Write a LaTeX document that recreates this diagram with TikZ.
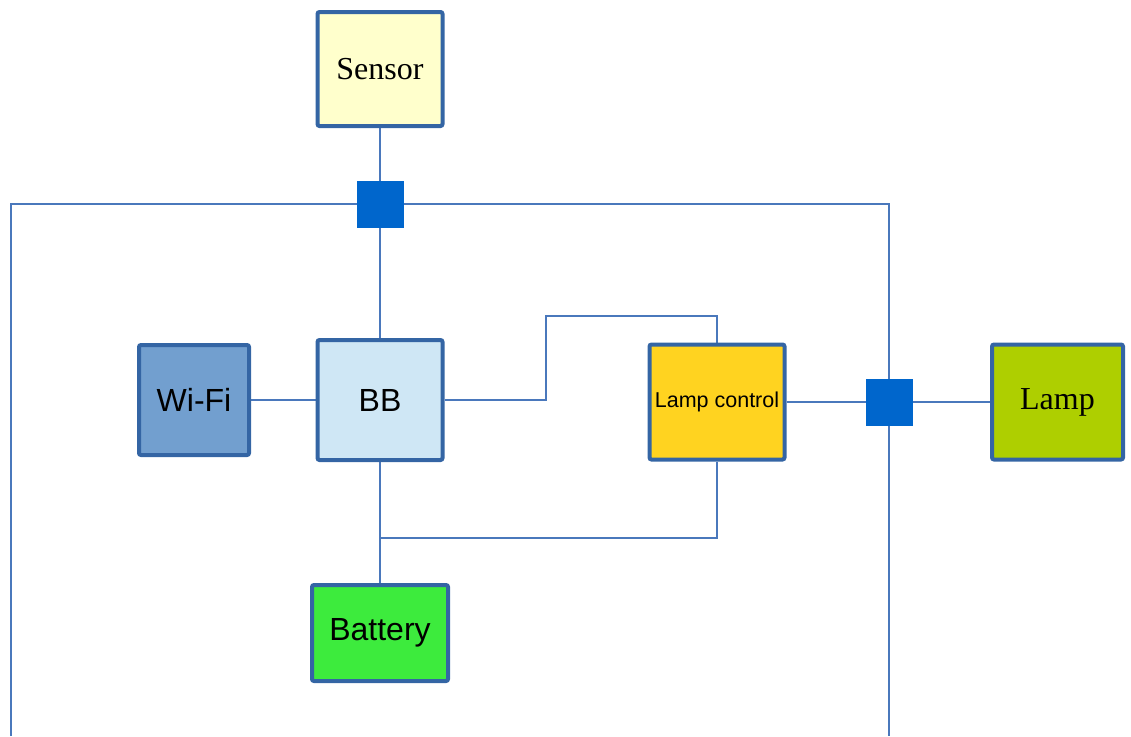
\documentclass[tikz,border=0pt]{standalone}
\usepackage{fontspec}
\usetikzlibrary{backgrounds}
\setmainfont{Liberation Serif}
\setsansfont{Liberation Sans}
\definecolor{frame}{HTML}{3465A4}
\definecolor{wire}{HTML}{4A78BC}
\definecolor{hub}{HTML}{0066CC}
\definecolor{sensorfill}{HTML}{FFFFCC}
\definecolor{bbfill}{HTML}{CFE7F5}
\definecolor{wififill}{HTML}{729FCF}
\definecolor{lcfill}{HTML}{FFD320}
\definecolor{lampfill}{HTML}{AECF00}
\definecolor{batfill}{HTML}{3DEB3D}
\tikzset{
  block/.style={draw=frame, line width=4pt, rounded corners=2pt, inner sep=0pt, align=center},
  big/.style={font=\fontsize{32}{37}\selectfont},
  bigsans/.style={font=\sffamily\fontsize{32}{37}\selectfont},
  hubbox/.style={fill=hub, draw=hub, line width=0.5pt, minimum width=46pt, minimum height=46pt, inner sep=0pt},
  wireline/.style={draw=wire, line width=1.5pt},
}
\begin{document}
\begin{tikzpicture}[x=1pt, y=-1pt]
  \useasboundingbox (0,0) rectangle (1131,736);

  % free ends and bends of the wires
  \coordinate (busL) at (11,736);
  \coordinate (busR) at (889,736);
  \coordinate (bend) at (546,316);
  \coordinate (tee) at (380,538);

  % hubs
  \node[hubbox] (hubA) at (380,204) {};
  \node[hubbox] (hubB) at (889,402) {};

  % blocks
  \node[block, big, fill=sensorfill, minimum width=125pt, minimum height=114pt] (sensor) at (380,69) {Sensor};
  \node[block, bigsans, fill=bbfill, minimum width=125pt, minimum height=120pt] (bb) at (380,400) {BB};
  \node[block, bigsans, fill=wififill, minimum width=110pt, minimum height=110pt] (wifi) at (194,400) {Wi-Fi};
  \node[block, font=\sffamily\fontsize{21.5}{25}\selectfont, fill=lcfill, minimum width=135pt, minimum height=115pt] (lc) at (717,402) {Lamp control};
  \node[block, big, fill=lampfill, minimum width=131pt, minimum height=115pt] (lamp) at (1057.5,402) {Lamp};
  \node[block, bigsans, fill=batfill, minimum width=136pt, minimum height=96pt] (bat) at (380,633) {Battery};

  % wires, kept behind the blocks and hubs
  \begin{scope}[on background layer]
    \path[wireline] (busL) |- (hubA.center) -| (busR);
    \path[wireline] (sensor.south) -- (hubA.center);
    \path[wireline] (hubA.center) -- (bb.north);
    \path[wireline] (wifi.east) -- (bb.west);
    \path[wireline] (bb.east) -| (bend) -| (lc.north);
    \path[wireline] (bb.south) -- (bat.north);
    \path[wireline] (lc.south) |- (tee);
    \path[wireline] (lc.east) -- (hubB.center) -- (lamp.west);
  \end{scope}
\end{tikzpicture}
\end{document}
